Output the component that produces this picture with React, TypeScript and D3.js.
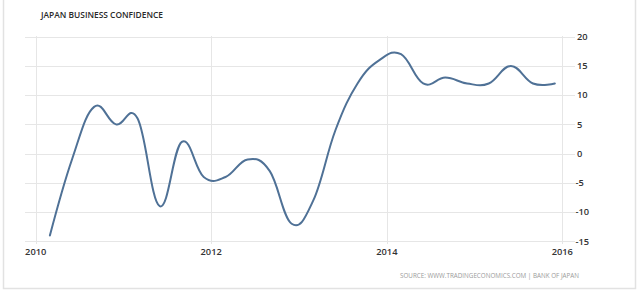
import React from "react";
import * as d3 from "d3";

const dates: string[] = [
  "2010-03-01", "2010-06-01", "2010-09-01", "2010-12-01",
  "2011-03-01", "2011-06-01", "2011-09-01", "2011-12-01",
  "2012-03-01", "2012-06-01", "2012-09-01", "2012-12-01",
  "2013-03-01", "2013-06-01", "2013-09-01", "2013-12-01",
  "2014-03-01", "2014-06-01", "2014-09-01", "2014-12-01",
  "2015-03-01", "2015-06-01", "2015-09-01", "2015-12-01",
];
const values: number[] = [
  -14, -1, 8, 5,
  6, -9, 2, -4,
  -4, -1, -3, -12,
  -8, 4, 12, 16,
  17, 12, 13, 12,
  12, 15, 12, 12,
];
const yTicks: number[] = [-15, -10, -5, 0, 5, 10, 15, 20];
const xTickYears: number[] = [2010, 2012, 2014, 2016];
const title = "JAPAN BUSINESS CONFIDENCE";
const source = "SOURCE: WWW.TRADINGECONOMICS.COM | BANK OF JAPAN";

// Highcharts-style spline as a d3 curve factory
function splineCurve(context: any) {
  let pts: [number, number][] = [];
  return {
    areaStart() {},
    areaEnd() {},
    lineStart() { pts = []; },
    point(x: number, y: number) { pts.push([+x, +y]); },
    lineEnd() {
      const n = pts.length;
      if (!n) return;
      const smoothing = 1.5, denom = smoothing + 1;
      const ctrl: { l: [number, number]; r: [number, number] }[] = [];
      for (let i = 0; i < n; i++) {
        const [x, y] = pts[i];
        if (i === 0 || i === n - 1) {
          ctrl.push({ l: [x, y], r: [x, y] });
          continue;
        }
        const [lx, ly] = pts[i - 1];
        const [nx, ny] = pts[i + 1];
        const lcx = (smoothing * x + lx) / denom;
        let lcy = (smoothing * y + ly) / denom;
        const rcx = (smoothing * x + nx) / denom;
        let rcy = (smoothing * y + ny) / denom;
        const corr = ((rcy - lcy) * (rcx - x)) / (rcx - lcx) + y - rcy;
        lcy += corr;
        rcy += corr;
        ctrl.push({ l: [lcx, lcy], r: [rcx, rcy] });
      }
      context.moveTo(pts[0][0], pts[0][1]);
      for (let i = 1; i < n; i++) {
        const a = ctrl[i - 1].r;
        const b = ctrl[i].l;
        context.bezierCurveTo(a[0], a[1], b[0], b[1], pts[i][0], pts[i][1]);
      }
    },
  };
}

export default function App() {
  const W = 640, H = 291;
  const parse = d3.timeParse("%Y-%m-%d");
  const data = dates.map((d, i) => ({ date: parse(d) as Date, value: values[i] }));

  const x = d3
    .scaleTime()
    .domain([new Date(2010, 0, 1), new Date(2016, 0, 1)])
    .range([35.7, 562.3]);
  const y = d3.scaleLinear().domain([-15, 20]).range([241.3, 36.7]);

  const line = d3
    .line<{ date: Date; value: number }>()
    .x((d) => x(d.date))
    .y((d) => y(d.value))
    .curve(splineCurve as any);

  const font = "'Open Sans', 'Noto Sans', sans-serif";

  return (
    <svg
      width={W}
      height={H}
      style={{ position: "absolute", left: 0, top: 0, background: "#fff" }}
    >
      <rect x={3.5} y={-2} width={632} height={290.5} fill="#fff" stroke="#e2e2e2" strokeWidth={1.5} />
      <text x={41} y={18.3} fontFamily={font} fontSize={8.4} fontWeight={600} fill="#2a2a2a" textLength={122} lengthAdjust="spacingAndGlyphs">
        {title}
      </text>
      {yTicks.map((t) => (
        <line key={"h" + t} x1={25} x2={575} y1={Math.round(y(t)) + 0.5} y2={Math.round(y(t)) + 0.5} stroke="#e6e6e6" strokeWidth={1} />
      ))}
      {xTickYears.map((yr) => {
        const xx = Math.round(x(new Date(yr, 0, 1))) + 0.5;
        return (
          <line key={"v" + yr} x1={xx} x2={xx} y1={36} y2={244} stroke="#e6e6e6" strokeWidth={1} />
        );
      })}
      <path d={line(data) || ""} fill="none" stroke="#4f7196" strokeWidth={2} strokeLinejoin="round" strokeLinecap="round" />
      {yTicks.map((t) => (
        <text key={"yl" + t} x={t < 0 ? 575.5 : 577} y={y(t) + 3.3} fontFamily={font} fontSize={9.3} fontWeight={600} fill="#333">
          {t}
        </text>
      ))}
      {xTickYears.map((yr) => (
        <text key={"xl" + yr} x={x(new Date(yr, 0, 1))} y={255.3} textAnchor="middle" fontFamily={font} fontSize={9.3} fontWeight={600} fill="#333">
          {yr}
        </text>
      ))}
      <text x={579} y={277.6} textAnchor="end" fontFamily={font} fontSize={6.4} fill="#9a9a9a" textLength={179} lengthAdjust="spacingAndGlyphs">
        {source}
      </text>
    </svg>
  );
}
